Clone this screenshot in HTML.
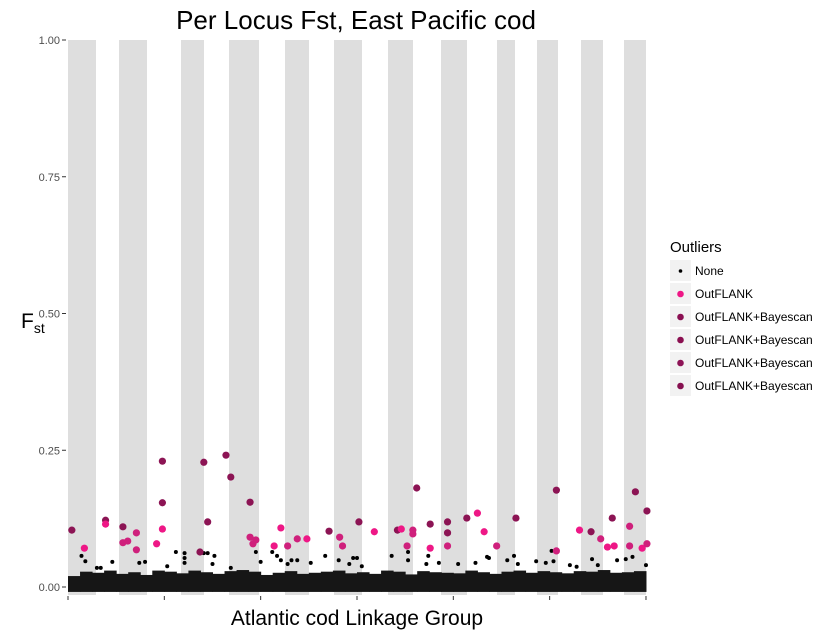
<!DOCTYPE html>
<html><head><meta charset="utf-8"><style>
body{margin:0;background:#fff;}
svg text{font-family:"Liberation Sans",sans-serif;}
</style></head><body>
<svg id="chart" width="828" height="635" xmlns="http://www.w3.org/2000/svg">
<text x="356" y="29" text-anchor="middle" font-size="26" fill="#000">Per Locus Fst, East Pacific cod</text>
<text x="21" y="328" font-size="21" fill="#000">F<tspan font-size="14" dy="5">st</tspan></text>
<text x="357" y="625" text-anchor="middle" font-size="21" fill="#000">Atlantic cod Linkage Group</text>
<g id="bands"></g><g id="yaxis"></g><g id="xaxis"></g><g id="none"></g><g id="outl"></g>
<g>
<text x="670" y="252" font-size="15" fill="#000">Outliers</text>
<g id="legend"></g></g>
</svg>
<script>
// chart data
const bandStarts=[68,119,181,229,285,334,388,441,497,537,581,624];
const bandEnds=[96,147,204,259,309,362,413,467,515,558,603,646];
const yTicks=[0,0.25,0.5,0.75,1];
const yTickLabels=["0.00","0.25","0.50","0.75","1.00"];
const xTicks=[0,1,2,3,4,5,6];
// outliers: x position (group units), Fst, category
const outX=[0.04,0.17,0.39,0.39,0.57,0.57,0.62,0.71,0.71,0.98,0.98,0.98,0.92,1.41,1.45,1.37,1.64,1.69,1.89,1.89,1.92,1.95,2.14,2.21,2.28,2.38,2.48,2.71,2.82,2.85,3.02,3.18,3.42,3.46,3.58,3.58,3.62,3.52,3.76,3.76,3.94,3.94,3.94,4.14,4.25,4.32,4.45,4.65,5.07,5.07,5.31,5.43,5.53,5.65,5.60,5.67,5.83,5.83,5.89,5.96,6.01,6.01];
const outY=[0.104,0.071,0.122,0.115,0.110,0.081,0.084,0.099,0.068,0.230,0.154,0.106,0.079,0.228,0.119,0.064,0.241,0.201,0.155,0.091,0.079,0.086,0.075,0.108,0.075,0.088,0.088,0.102,0.091,0.075,0.119,0.101,0.104,0.106,0.104,0.097,0.181,0.075,0.115,0.071,0.119,0.099,0.075,0.126,0.135,0.101,0.075,0.126,0.177,0.066,0.104,0.101,0.088,0.126,0.073,0.075,0.111,0.075,0.174,0.071,0.139,0.079];
const outC=["b","o","b","o","b","m","m","m","m","b","b","o","o","b","b","b","b","b","b","m","m","m","o","o","m","m","o","b","m","m","b","o","b","o","m","m","b","m","b","o","b","b","m","b","o","o","m","b","b","m","o","b","m","b","o","o","m","m","b","o","b","m"];
// scattered non-outlier loci above the dense band
const noneX=[0.14,0.18,0.30,0.34,0.46,0.74,0.80,1.12,1.21,1.21,1.21,1.03,1.41,1.45,1.52,1.50,1.69,1.95,2.00,2.12,2.17,2.21,2.28,2.32,2.38,2.52,2.67,2.81,2.92,2.96,3.00,3.05,3.36,3.53,3.53,3.74,3.72,3.85,4.05,4.23,4.37,4.35,4.56,4.63,4.67,4.86,4.96,5.02,5.04,5.21,5.28,5.44,5.50,5.70,5.79,5.86,6.00];
const noneY=[0.057,0.047,0.035,0.035,0.046,0.044,0.046,0.064,0.062,0.053,0.044,0.038,0.062,0.062,0.057,0.042,0.035,0.064,0.046,0.064,0.057,0.049,0.042,0.049,0.049,0.044,0.057,0.049,0.042,0.053,0.053,0.038,0.057,0.064,0.049,0.057,0.042,0.044,0.042,0.044,0.053,0.055,0.049,0.057,0.042,0.047,0.044,0.066,0.047,0.040,0.037,0.051,0.040,0.049,0.051,0.055,0.040];
// dense-band top (Fst) per 1/8 group segment
const denseTop=[0.020,0.028,0.026,0.030,0.024,0.027,0.022,0.030,0.028,0.025,0.030,0.027,0.024,0.029,0.031,0.028,0.022,0.026,0.029,0.024,0.026,0.028,0.030,0.025,0.027,0.024,0.030,0.028,0.023,0.029,0.027,0.026,0.025,0.030,0.027,0.024,0.028,0.030,0.026,0.029,0.027,0.025,0.029,0.028,0.031,0.026,0.027,0.029];

const T=40,B=595;
const xs=v=>68+v*96.33;
const ys=v=>587-v*547;
const NS="http://www.w3.org/2000/svg";
function mk(tag,attrs,parent){const e=document.createElementNS(NS,tag);for(const k in attrs)e.setAttribute(k,attrs[k]);document.getElementById(parent).appendChild(e);return e;}
bandStarts.forEach((s,i)=>{
  const r=mk('rect',{x:s,y:T,width:bandEnds[i]-s,height:B-T,fill:'#dedede'},'bands');
  
  
});
yTicks.forEach((v,i)=>{
  const l=mk('line',{x1:62,x2:66,y1:ys(v),y2:ys(v),stroke:'#333','stroke-width':1},'yaxis');
  
  
  const t=mk('text',{x:60,y:ys(v)+4,'text-anchor':'end','font-size':11,fill:'#4d4d4d'},'yaxis');
  t.textContent=yTickLabels[i];
  
  
});
xTicks.forEach(v=>{
  const l=mk('line',{x1:xs(v),x2:xs(v),y1:596,y2:600,stroke:'#333','stroke-width':1},'xaxis');
  
  
});
denseTop.forEach((v,i)=>{
  const x0=xs(i/8),x1=xs((i+1)/8);
  const r=mk('rect',{x:x0,y:ys(v),width:x1-x0+0.5,height:ys(-0.009)-ys(v),fill:'#161616'},'none');
  
  
});
noneX.forEach((x,i)=>{
  const c=mk('circle',{cx:xs(x),cy:ys(noneY[i]),r:2,fill:'#000'},'none');
  
  
});
const col={o:'#ee1786',m:'#cf207c',b:'#8c1454'};
outX.forEach((x,i)=>{
  const c=mk('circle',{cx:xs(x),cy:ys(outY[i]),r:3.6,fill:col[outC[i]]},'outl');
  
  
});
const legLabels=["None","OutFLANK","OutFLANK+Bayescan","OutFLANK+Bayescan","OutFLANK+Bayescan","OutFLANK+Bayescan"];
const legCols=['#000','#ee1786','#8a0f52','#8a0f50','#8d1356','#861050'];
legLabels.forEach((lab,i)=>{
  const cy=271+i*23;
  const k=mk('rect',{x:670,y:cy-11,width:21,height:21,fill:'#f2f2f2'},'legend');
  
  
  const c=mk('circle',{cx:680.5,cy:cy,r:i==0?1.8:3.3,fill:legCols[i]},'legend');
  
  
  const t=mk('text',{x:695,y:cy+4,'font-size':12,fill:'#000'},'legend');
  t.textContent=lab;
  
  
});
</script>
</body></html>
